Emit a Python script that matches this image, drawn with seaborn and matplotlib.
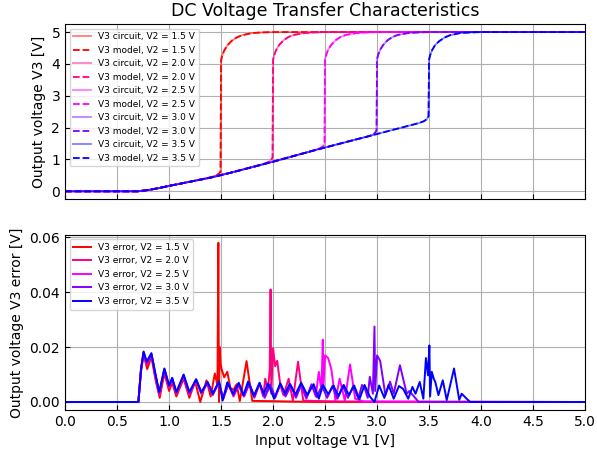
import matplotlib
matplotlib.use("Agg")
import matplotlib.pyplot as plt
import seaborn as sns

# ---------------- data ----------------
v2_values = ["1.5", "2.0", "2.5", "3.0", "3.5"]
colors = ["#ff0000", "#ff0080", "#ff00ff", "#8000ff", "#0000ff"]

# transfer curves V3(V1)
v3_15_x = [0, 0.7, 0.8, 0.9, 1.0, 1.1, 1.2, 1.3, 1.4, 1.45, 1.48, 1.495, 1.50, 1.51, 1.53, 1.56, 1.6, 1.65, 1.7, 1.8, 1.9, 2.0, 5.0]
v3_15_y = [0, 0, 0.04, 0.1, 0.17, 0.23, 0.3, 0.37, 0.44, 0.49, 0.55, 0.62, 4.1, 4.25, 4.42, 4.58, 4.72, 4.83, 4.9, 4.97, 4.99, 5.0, 5.0]

v3_20_x = [0, 0.7, 0.8, 0.9, 1.0, 1.2, 1.4, 1.6, 1.8, 1.9, 1.95, 1.98, 1.995, 2.0, 2.01, 2.03, 2.06, 2.1, 2.15, 2.2, 2.3, 2.4, 2.5, 5.0]
v3_20_y = [0, 0, 0.04, 0.1, 0.17, 0.3, 0.43, 0.59, 0.76, 0.85, 0.91, 0.98, 1.06, 4.12, 4.27, 4.44, 4.6, 4.74, 4.85, 4.91, 4.97, 4.99, 5.0, 5.0]

v3_25_x = [0, 0.7, 0.8, 0.9, 1.0, 1.2, 1.4, 1.6, 1.8, 2.0, 2.2, 2.4, 2.45, 2.48, 2.495, 2.50, 2.51, 2.53, 2.56, 2.6, 2.65, 2.7, 2.8, 2.9, 3.0, 5.0]
v3_25_y = [0, 0, 0.04, 0.1, 0.17, 0.3, 0.43, 0.59, 0.76, 0.93, 1.11, 1.29, 1.35, 1.41, 1.48, 4.15, 4.28, 4.45, 4.6, 4.74, 4.85, 4.91, 4.97, 4.99, 5.0, 5.0]

v3_30_x = [0, 0.7, 0.8, 0.9, 1.0, 1.2, 1.4, 1.6, 1.8, 2.0, 2.2, 2.4, 2.6, 2.8, 2.9, 2.95, 2.98, 2.995, 3.0, 3.01, 3.03, 3.06, 3.1, 3.15, 3.2, 3.3, 3.4, 3.5, 5.0]
v3_30_y = [0, 0, 0.04, 0.1, 0.17, 0.3, 0.43, 0.59, 0.76, 0.93, 1.11, 1.29, 1.46, 1.63, 1.71, 1.76, 1.83, 1.92, 4.15, 4.28, 4.45, 4.6, 4.74, 4.85, 4.91, 4.97, 4.99, 5.0, 5.0]

v3_35_x = [0, 0.7, 0.8, 0.9, 1.0, 1.2, 1.4, 1.6, 1.8, 2.0, 2.2, 2.4, 2.6, 2.8, 3.0, 3.2, 3.4, 3.45, 3.48, 3.495, 3.50, 3.51, 3.53, 3.56, 3.6, 3.65, 3.7, 3.8, 3.9, 4.0, 5.0]
v3_35_y = [0, 0, 0.04, 0.1, 0.17, 0.3, 0.43, 0.59, 0.76, 0.93, 1.11, 1.29, 1.46, 1.63, 1.8, 1.97, 2.14, 2.2, 2.27, 2.36, 4.13, 4.27, 4.44, 4.6, 4.72, 4.83, 4.9, 4.97, 4.99, 5.0, 5.0]

# errors |V3 circuit - V3 model|
err_15_x = [0, 0.70, 0.705, 0.73, 0.755, 0.79, 0.83, 0.87, 0.91, 0.955, 1.00, 1.03, 1.07, 1.14, 1.195, 1.25, 1.30,
            1.36, 1.40, 1.44, 1.465, 1.474, 1.48, 1.487, 1.495, 1.505, 1.53, 1.56, 1.59, 1.62, 1.65, 1.68, 1.745,
            1.80, 2.0, 2.4, 5.0]
err_15_y = [0, 0, 0, 0.011, 0.0172, 0.012, 0.0165, 0.008, 0.0015, 0.0105, 0.004, 0.007, 0.002, 0.0085, 0.0015, 0.0075, 0.0,
            0.0079, 0.002, 0.0104, 0.006, 0.058, 0.0, 0.020, 0.014, 0.012, 0.009, 0.011, 0.005, 0.0045, 0.0065, 0.0003, 0.0149,
            0.0004, 0.0003, 0.0, 0.0]

err_20_x = [0, 0.70, 0.705, 0.73, 0.755, 0.787, 0.83, 0.87, 0.908, 0.955, 1.00, 1.03, 1.07, 1.14, 1.195, 1.26, 1.31,
            1.37, 1.42, 1.475, 1.52, 1.57, 1.62, 1.665, 1.72, 1.77, 1.82, 1.87, 1.905, 1.925, 1.95, 1.968, 1.976,
            1.983, 2.0, 2.02, 2.04, 2.07, 2.10, 2.15, 2.19, 2.24, 2.29, 2.5, 3.0, 5.0]
err_20_y = [0, 0, 0, 0.0115, 0.0178, 0.0135, 0.017, 0.009, 0.0025, 0.0115, 0.005, 0.008, 0.003, 0.0092, 0.0025, 0.0078, 0.003,
            0.007, 0.0025, 0.0068, 0.0015, 0.0065, 0.002, 0.0062, 0.002, 0.0065, 0.0015, 0.0068, 0.002, 0.0085, 0.004, 0.012, 0.041,
            0.003, 0.0196, 0.013, 0.015, 0.006, 0.0025, 0.0085, 0.0005, 0.0147, 0.0005, 0.0003, 0.0001, 0.0]

err_25_x = [0, 0.70, 0.705, 0.73, 0.755, 0.786, 0.83, 0.87, 0.906, 0.955, 1.00, 1.03, 1.07, 1.14, 1.195, 1.26, 1.31,
            1.37, 1.42, 1.48, 1.52, 1.57, 1.62, 1.67, 1.72, 1.77, 1.82, 1.87, 1.92, 1.97, 2.02, 2.07, 2.12, 2.17,
            2.22, 2.27, 2.32, 2.37, 2.41, 2.44, 2.465, 2.478, 2.485, 2.50, 2.53, 2.56, 2.60, 2.64, 2.69, 2.74,
            2.79, 2.87, 5.0]
err_25_y = [0, 0, 0, 0.0118, 0.018, 0.014, 0.0172, 0.0095, 0.003, 0.0118, 0.0055, 0.0085, 0.0032, 0.0095, 0.003, 0.008, 0.0032,
            0.007, 0.0028, 0.0072, 0.001, 0.0066, 0.0022, 0.0064, 0.002, 0.0068, 0.0018, 0.0066, 0.0015, 0.0062, 0.0015, 0.0064, 0.002, 0.006,
            0.0015, 0.0062, 0.0012, 0.0065, 0.002, 0.011, 0.004, 0.0227, 0.006, 0.017, 0.016, 0.012, 0.0005, 0.0085, 0.0005, 0.0137,
            0.0012, 0.0002, 0.0]

err_30_x = [0, 0.70, 0.705, 0.73, 0.755, 0.786, 0.83, 0.87, 0.906, 0.955, 1.00, 1.03, 1.07, 1.14, 1.195, 1.26, 1.31,
            1.37, 1.42, 1.48, 1.52, 1.57, 1.62, 1.67, 1.72, 1.77, 1.82, 1.87, 1.92, 1.97, 2.02, 2.07, 2.12, 2.17,
            2.22, 2.27, 2.32, 2.37, 2.42, 2.47, 2.52, 2.57, 2.62, 2.67, 2.72, 2.77, 2.82, 2.855, 2.885, 2.91,
            2.93, 2.96, 2.975, 2.982, 3.0, 3.03, 3.08, 3.125, 3.16, 3.22, 3.285, 3.31, 3.40, 5.0]
err_30_y = [0, 0, 0, 0.0118, 0.0182, 0.0142, 0.0175, 0.0098, 0.0033, 0.012, 0.0058, 0.0086, 0.0034, 0.0098, 0.0033, 0.0082, 0.0034,
            0.0072, 0.0029, 0.0073, 0.0012, 0.0068, 0.0025, 0.0066, 0.0022, 0.007, 0.002, 0.0068, 0.0018, 0.0064, 0.0018, 0.0066, 0.0022, 0.0062,
            0.0018, 0.0064, 0.0015, 0.0062, 0.0018, 0.006, 0.0015, 0.0058, 0.0012, 0.006, 0.0015, 0.0058, 0.0012, 0.0062, 0.0047, 0.0015,
            0.0092, 0.003, 0.0275, 0.004, 0.017, 0.015, 0.0025, 0.0074, 0.003, 0.0134, 0.003, 0.004, 0.0, 0.0]

err_35_x = [0, 0.70, 0.705, 0.73, 0.755, 0.785, 0.83, 0.87, 0.905, 0.955, 1.00, 1.03, 1.07, 1.14, 1.195, 1.26, 1.31,
            1.37, 1.42, 1.48, 1.515, 1.56, 1.615, 1.67, 1.715, 1.76, 1.815, 1.87, 1.91, 1.95, 2.01, 2.07, 2.115,
            2.16, 2.215, 2.27, 2.33, 2.39, 2.44, 2.48, 2.53, 2.58, 2.63, 2.68, 2.73, 2.78, 2.83, 2.88, 2.93,
            2.975, 3.02, 3.07, 3.11, 3.16, 3.21, 3.25, 3.30, 3.34, 3.37, 3.41, 3.445, 3.47, 3.49, 3.503, 3.51,
            3.526, 3.545, 3.56, 3.59, 3.632, 3.67, 3.74, 3.79, 3.814, 3.894, 5.0]
err_35_y = [0, 0, 0, 0.012, 0.0184, 0.0147, 0.0178, 0.010, 0.0036, 0.0122, 0.006, 0.0088, 0.0036, 0.0100, 0.0036, 0.0083, 0.0036,
            0.0073, 0.0030, 0.0075, 0.0005, 0.0072, 0.0030, 0.0070, 0.0025, 0.0075, 0.0022, 0.0070, 0.0028, 0.0068, 0.0012, 0.0068, 0.0030,
            0.0066, 0.0028, 0.0070, 0.0025, 0.0065, 0.0012, 0.0062, 0.0028, 0.0060, 0.0022, 0.0062, 0.0025, 0.0060, 0.0010, 0.0062, 0.0020,
            0.0, 0.0060, 0.0015, 0.0062, 0.0012, 0.0058, 0.0048, 0.0012, 0.0055, 0.0030, 0.0073, 0.0012, 0.016, 0.0097, 0.0206, 0.002,
            0.011, 0.0085, 0.0073, 0.0025, 0.0079, 0.0007, 0.0122, 0.0008, 0.0030, 0.0, 0.0]

v3_x = [v3_15_x, v3_20_x, v3_25_x, v3_30_x, v3_35_x]
v3_y = [v3_15_y, v3_20_y, v3_25_y, v3_30_y, v3_35_y]
err_x = [err_15_x, err_20_x, err_25_x, err_30_x, err_35_x]
err_y = [err_15_y, err_20_y, err_25_y, err_30_y, err_35_y]

x_ticks = [0.0, 0.5, 1.0, 1.5, 2.0, 2.5, 3.0, 3.5, 4.0, 4.5, 5.0]

# ---------------- plot ----------------
fig, (ax1, ax2) = plt.subplots(2, 1, figsize=(5.97, 4.55), dpi=100, sharex=True)
fig.subplots_adjust(left=0.109, right=0.98, top=0.947, bottom=0.099, hspace=0.203)

for v2, c, xs, ys in zip(v2_values, colors, v3_x, v3_y):
    sns.lineplot(x=xs, y=ys, ax=ax1, color=c, alpha=0.5, linewidth=1.3,
                 estimator=None, sort=False, label=f"V3 circuit, V2 = {v2} V")
    sns.lineplot(x=xs, y=ys, ax=ax1, color=c, linestyle="--", linewidth=1.3,
                 estimator=None, sort=False, label=f"V3 model, V2 = {v2} V")

for v2, c, xs, ys in zip(v2_values, colors, err_x, err_y):
    sns.lineplot(x=xs, y=ys, ax=ax2, color=c, linewidth=1.4,
                 estimator=None, sort=False, label=f"V3 error, V2 = {v2} V")

for ax in (ax1, ax2):
    ax.grid(True, color="#b0b0b0", linewidth=0.8)
    ax.tick_params(direction="in", labelsize=10)
    ax.set_xlim(0, 5)
    ax.set_xticks(x_ticks)
    ax.legend(loc="upper left", fontsize=6.5)

ax1.set_title("DC Voltage Transfer Characteristics", fontsize=12.5)
ax1.set_ylabel("Output voltage V3 [V]", fontsize=10)
ax2.set_ylabel("Output voltage V3 error [V]", fontsize=10)
ax2.set_xlabel("Input voltage V1 [V]", fontsize=10)
ax1.tick_params(labelbottom=False)

fig.savefig("out.png", dpi=100)
